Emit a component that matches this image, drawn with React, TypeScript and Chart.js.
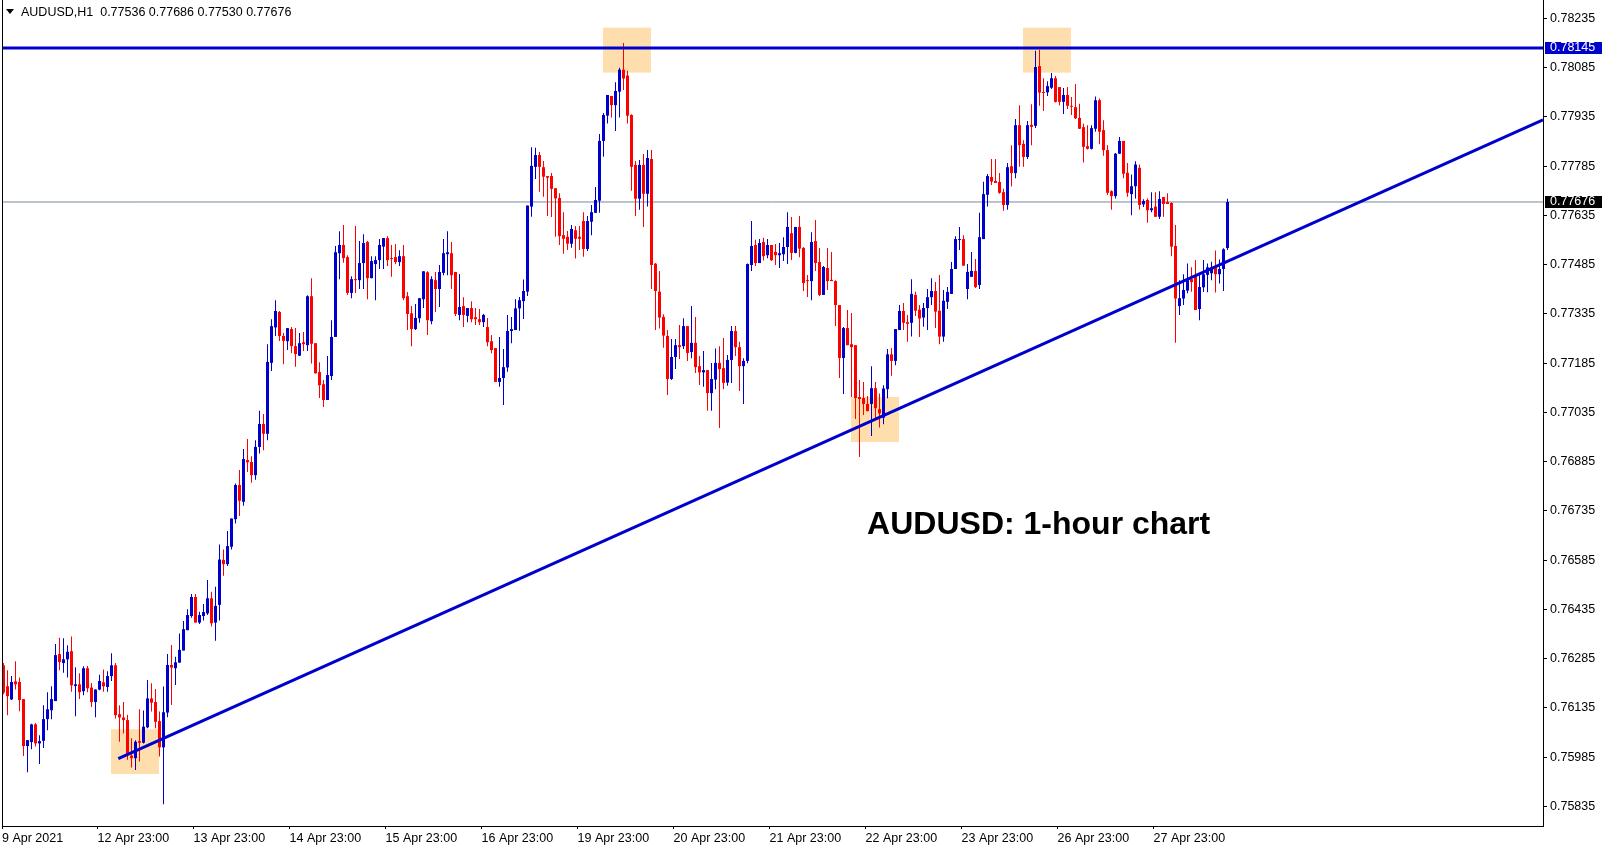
import { useEffect, useRef } from "react";
import { Chart, registerables } from "chart.js";

Chart.register(...registerables);

// ---- Data (AUDUSD H1 candles, index 0 = 9 Apr 2021) ----
const OPEN = [
  0.76265,0.76201,0.76161,0.76216,0.76214,0.76162,0.76019,0.76031,0.76085,0.76027,
  0.76035,0.76101,0.76128,0.76156,0.76299,0.76272,0.76283,0.76308,0.76202,0.76207,
  0.76186,0.76256,0.76197,0.76153,0.76191,0.76213,0.76199,0.76232,0.76265,0.76116,
  0.76106,0.76098,0.75990,0.75982,0.76034,0.76029,0.76076,0.76164,0.76153,0.76095,
  0.76015,0.76121,0.76266,0.76256,0.76273,0.76310,0.76372,0.76415,0.76473,0.76395,
  0.76415,0.76423,0.76469,0.76395,0.76449,0.76586,0.76573,0.76626,0.76710,0.76814,
  0.76763,0.76890,0.76884,0.76844,0.76930,0.77000,0.76970,0.77186,0.77294,0.77341,
  0.77268,0.77252,0.77289,0.77237,0.77208,0.77249,0.77240,0.77389,0.77246,0.77158,
  0.77121,0.77073,0.77146,0.77265,0.77520,0.77545,0.77508,0.77399,0.77441,0.77438,
  0.77490,0.77554,0.77444,0.77487,0.77499,0.77540,0.77566,0.77505,0.77508,0.77493,
  0.77511,0.77389,0.77337,0.77289,0.77322,0.77380,0.77462,0.77313,0.77438,0.77411,
  0.77460,0.77517,0.77520,0.77463,0.77332,0.77359,0.77329,0.77353,0.77325,0.77319,
  0.77310,0.77295,0.77252,0.77231,0.77128,0.77140,0.77172,0.77283,0.77286,0.77352,
  0.77374,0.77403,0.77662,0.77783,0.77819,0.77782,0.77755,0.77755,0.77718,0.77688,
  0.77575,0.77570,0.77549,0.77590,0.77570,0.77618,0.77533,0.77616,0.77643,0.77680,
  0.77862,0.77939,0.77999,0.77971,0.78012,0.78079,0.78061,0.77941,0.77789,0.77686,
  0.77789,0.77701,0.77807,0.77488,0.77403,0.77326,0.77268,0.77137,0.77204,0.77240,
  0.77237,0.77298,0.77219,0.77247,0.77176,0.77157,0.77164,0.77094,0.77135,0.77186,
  0.77170,0.77126,0.77195,0.77283,0.77234,0.77176,0.77192,0.77484,0.77545,0.77490,
  0.77554,0.77514,0.77545,0.77524,0.77514,0.77517,0.77539,0.77581,0.77521,0.77600,
  0.77536,0.77438,0.77435,0.77557,0.77493,0.77393,0.77475,0.77439,0.77435,0.77362,
  0.77201,0.77292,0.77243,0.77240,0.77082,0.77079,0.77061,0.77061,0.77109,0.77045,
  0.77019,0.77106,0.77212,0.77192,0.77286,0.77344,0.77310,0.77308,0.77393,0.77348,
  0.77324,0.77353,0.77386,0.77405,0.77345,0.77266,0.77372,0.77396,0.77472,0.77560,
  0.77563,0.77411,0.77448,0.77466,0.77423,0.77563,0.77698,0.77752,0.77740,0.77737,
  0.77706,0.77667,0.77785,0.77764,0.77910,0.77853,0.77813,0.77911,0.77908,0.78090,
  0.78011,0.78010,0.78024,0.78053,0.78026,0.77981,0.78002,0.77969,0.77965,0.77932,
  0.77904,0.77846,0.77838,0.77899,0.77986,0.77895,0.77834,0.77709,0.77694,0.77823,
  0.77862,0.77765,0.77700,0.77724,0.77780,0.77669,0.77682,0.77651,0.77662,0.77631,
  0.77691,0.77676,0.77673,0.77542,0.77359,0.77382,0.77406,0.77441,0.77450,0.77350,
  0.77416,0.77454,0.77459,0.77477,0.77456,0.77472,0.77536,
];
const HIGH = [
  0.76272,0.76250,0.76232,0.76277,0.76228,0.76162,0.76037,0.76087,0.76089,0.76052,
  0.76143,0.76183,0.76201,0.76330,0.76349,0.76347,0.76326,0.76353,0.76259,0.76241,
  0.76262,0.76263,0.76211,0.76192,0.76236,0.76252,0.76247,0.76302,0.76272,0.76143,
  0.76153,0.76114,0.76043,0.76037,0.76131,0.76127,0.76220,0.76210,0.76193,0.76124,
  0.76200,0.76299,0.76327,0.76291,0.76362,0.76400,0.76436,0.76482,0.76482,0.76428,
  0.76452,0.76525,0.76489,0.76504,0.76633,0.76618,0.76674,0.76712,0.76819,0.76860,
  0.76924,0.76954,0.76902,0.76950,0.77040,0.77030,0.77243,0.77319,0.77377,0.77344,
  0.77277,0.77292,0.77295,0.77292,0.77277,0.77280,0.77392,0.77444,0.77246,0.77188,
  0.77134,0.77207,0.77316,0.77542,0.77587,0.77606,0.77514,0.77450,0.77603,0.77557,
  0.77578,0.77557,0.77511,0.77511,0.77563,0.77566,0.77572,0.77545,0.77548,0.77529,
  0.77545,0.77402,0.77359,0.77365,0.77383,0.77465,0.77465,0.77450,0.77463,0.77484,
  0.77563,0.77587,0.77554,0.77463,0.77457,0.77386,0.77353,0.77374,0.77353,0.77350,
  0.77335,0.77323,0.77271,0.77231,0.77265,0.77228,0.77332,0.77326,0.77380,0.77387,
  0.77440,0.77665,0.77843,0.77841,0.77828,0.77801,0.77755,0.77764,0.77718,0.77703,
  0.77645,0.77588,0.77606,0.77603,0.77603,0.77645,0.77633,0.77667,0.77722,0.77883,
  0.77947,0.78002,0.77999,0.78041,0.78085,0.78160,0.78076,0.77943,0.77801,0.77804,
  0.77822,0.77834,0.77834,0.77490,0.77466,0.77334,0.77286,0.77259,0.77259,0.77301,
  0.77322,0.77298,0.77359,0.77326,0.77207,0.77222,0.77164,0.77186,0.77230,0.77237,
  0.77262,0.77210,0.77298,0.77298,0.77250,0.77200,0.77489,0.77618,0.77561,0.77563,
  0.77567,0.77563,0.77545,0.77548,0.77551,0.77569,0.77645,0.77630,0.77600,0.77633,
  0.77539,0.77454,0.77584,0.77621,0.77536,0.77481,0.77536,0.77524,0.77438,0.77362,
  0.77295,0.77347,0.77338,0.77240,0.77134,0.77128,0.77085,0.77176,0.77128,0.77093,
  0.77118,0.77228,0.77231,0.77289,0.77362,0.77368,0.77332,0.77441,0.77403,0.77362,
  0.77368,0.77411,0.77444,0.77432,0.77454,0.77408,0.77417,0.77493,0.77572,0.77600,
  0.77575,0.77487,0.77524,0.77502,0.77643,0.77738,0.77761,0.77807,0.77807,0.77764,
  0.77716,0.77795,0.77849,0.77929,0.77971,0.77864,0.77923,0.77974,0.78137,0.78140,
  0.78053,0.78044,0.78069,0.78060,0.78026,0.78023,0.78026,0.77996,0.78035,0.77975,
  0.77914,0.77910,0.77910,0.77997,0.77991,0.77925,0.77849,0.77712,0.77825,0.77874,
  0.77862,0.77795,0.77760,0.77800,0.77790,0.77684,0.77687,0.77706,0.77706,0.77709,
  0.77691,0.77703,0.77675,0.77606,0.77438,0.77456,0.77489,0.77477,0.77499,0.77453,
  0.77499,0.77489,0.77494,0.77528,0.77501,0.77535,0.77686,
];
const LOW = [
  0.76177,0.76113,0.76159,0.76191,0.76125,0.75989,0.75939,0.76009,0.76018,0.75964,
  0.76013,0.76067,0.76101,0.76156,0.76250,0.76242,0.76228,0.76184,0.76110,0.76162,
  0.76174,0.76183,0.76138,0.76107,0.76189,0.76184,0.76184,0.76217,0.76103,0.76032,
  0.76057,0.75977,0.75954,0.75946,0.75972,0.76027,0.76073,0.76124,0.76073,0.75987,
  0.75842,0.76107,0.76144,0.76205,0.76273,0.76310,0.76372,0.76410,0.76395,0.76391,
  0.76401,0.76418,0.76383,0.76340,0.76401,0.76538,0.76567,0.76618,0.76697,0.76720,
  0.76751,0.76854,0.76821,0.76830,0.76910,0.76920,0.76950,0.77161,0.77268,0.77253,
  0.77182,0.77225,0.77215,0.77174,0.77207,0.77222,0.77222,0.77184,0.77154,0.77079,
  0.77052,0.77073,0.77134,0.77265,0.77441,0.77491,0.77393,0.77383,0.77399,0.77411,
  0.77411,0.77380,0.77444,0.77377,0.77472,0.77472,0.77481,0.77448,0.77487,0.77481,
  0.77377,0.77286,0.77237,0.77286,0.77308,0.77353,0.77271,0.77304,0.77341,0.77356,
  0.77453,0.77453,0.77411,0.77329,0.77316,0.77295,0.77310,0.77310,0.77301,0.77301,
  0.77295,0.77237,0.77215,0.77128,0.77113,0.77058,0.77159,0.77246,0.77286,0.77284,
  0.77320,0.77390,0.77631,0.77746,0.77707,0.77692,0.77633,0.77630,0.77570,0.77545,
  0.77518,0.77530,0.77537,0.77504,0.77530,0.77509,0.77527,0.77575,0.77643,0.77643,
  0.77814,0.77915,0.77933,0.77892,0.77933,0.78017,0.77915,0.77710,0.77633,0.77652,
  0.77600,0.77662,0.77411,0.77286,0.77291,0.77232,0.77088,0.77134,0.77167,0.77198,
  0.77228,0.77192,0.77200,0.77155,0.77119,0.77113,0.77040,0.77040,0.77106,0.76988,
  0.77106,0.77116,0.77125,0.77207,0.77100,0.77061,0.77185,0.77466,0.77481,0.77490,
  0.77498,0.77505,0.77496,0.77484,0.77475,0.77496,0.77487,0.77499,0.77520,0.77508,
  0.77405,0.77387,0.77377,0.77466,0.77390,0.77393,0.77408,0.77435,0.77298,0.77140,
  0.77091,0.77240,0.77082,0.77015,0.76899,0.77027,0.77039,0.76963,0.77015,0.76989,
  0.76999,0.77078,0.77147,0.77179,0.77286,0.77286,0.77250,0.77266,0.77329,0.77265,
  0.77296,0.77286,0.77362,0.77292,0.77243,0.77250,0.77350,0.77396,0.77472,0.77530,
  0.77482,0.77380,0.77448,0.77414,0.77411,0.77563,0.77662,0.77728,0.77734,0.77701,
  0.77649,0.77652,0.77723,0.77748,0.77783,0.77783,0.77807,0.77849,0.77901,0.77969,
  0.77953,0.77999,0.78020,0.77979,0.77971,0.77944,0.77959,0.77941,0.77929,0.77898,
  0.77796,0.77836,0.77836,0.77890,0.77852,0.77817,0.77697,0.77652,0.77687,0.77823,
  0.77748,0.77692,0.77636,0.77687,0.77653,0.77661,0.77613,0.77645,0.77630,0.77624,
  0.77631,0.77670,0.77511,0.77247,0.77332,0.77362,0.77398,0.77403,0.77347,0.77316,
  0.77402,0.77401,0.77438,0.77400,0.77428,0.77405,0.77530,
];
const CLOSE = [
  0.76182,0.76171,0.76214,0.76207,0.76159,0.76019,0.76037,0.76085,0.76027,0.76034,
  0.76101,0.76131,0.76162,0.76296,0.76275,0.76283,0.76306,0.76204,0.76207,0.76183,
  0.76256,0.76195,0.76153,0.76191,0.76217,0.76201,0.76232,0.76265,0.76113,0.76106,
  0.76098,0.75992,0.75982,0.76032,0.76029,0.76078,0.76164,0.76151,0.76093,0.76015,
  0.76122,0.76266,0.76258,0.76274,0.76312,0.76375,0.76418,0.76473,0.76395,0.76418,
  0.76427,0.76469,0.76393,0.76446,0.76587,0.76573,0.76628,0.76712,0.76814,0.76766,
  0.76893,0.76883,0.76844,0.76930,0.77000,0.76970,0.77189,0.77298,0.77344,0.77268,
  0.77253,0.77292,0.77237,0.77213,0.77246,0.77243,0.77389,0.77244,0.77154,0.77118,
  0.77073,0.77149,0.77265,0.77523,0.77545,0.77505,0.77399,0.77441,0.77438,0.77490,
  0.77551,0.77444,0.77496,0.77499,0.77545,0.77566,0.77499,0.77502,0.77493,0.77511,
  0.77383,0.77335,0.77289,0.77323,0.77383,0.77465,0.77316,0.77441,0.77411,0.77463,
  0.77520,0.77523,0.77453,0.77335,0.77356,0.77332,0.77353,0.77319,0.77319,0.77310,
  0.77332,0.77249,0.77225,0.77128,0.77140,0.77173,0.77283,0.77289,0.77352,0.77377,
  0.77405,0.77665,0.77786,0.77819,0.77783,0.77753,0.77750,0.77716,0.77687,0.77572,
  0.77564,0.77549,0.77594,0.77564,0.77564,0.77533,0.77618,0.77645,0.77682,0.77862,
  0.77941,0.78002,0.77971,0.78014,0.78079,0.78052,0.77939,0.77783,0.77686,0.77789,
  0.77701,0.77810,0.77484,0.77405,0.77324,0.77269,0.77137,0.77204,0.77240,0.77234,
  0.77298,0.77216,0.77247,0.77173,0.77157,0.77164,0.77094,0.77137,0.77186,0.77167,
  0.77125,0.77195,0.77283,0.77234,0.77176,0.77192,0.77487,0.77542,0.77490,0.77551,
  0.77511,0.77545,0.77499,0.77514,0.77520,0.77539,0.77600,0.77521,0.77600,0.77534,
  0.77429,0.77435,0.77554,0.77490,0.77393,0.77478,0.77435,0.77435,0.77362,0.77201,
  0.77292,0.77240,0.77234,0.77079,0.77076,0.77061,0.77039,0.77109,0.77048,0.77032,
  0.77108,0.77212,0.77192,0.77289,0.77344,0.77308,0.77305,0.77396,0.77345,0.77321,
  0.77353,0.77386,0.77405,0.77342,0.77266,0.77375,0.77402,0.77472,0.77563,0.77563,
  0.77482,0.77463,0.77466,0.77417,0.77569,0.77700,0.77755,0.77738,0.77734,0.77704,
  0.77667,0.77782,0.77764,0.77910,0.77849,0.77813,0.77910,0.77905,0.78087,0.78009,
  0.78008,0.78029,0.78053,0.77981,0.77981,0.78002,0.77969,0.77966,0.77931,0.77899,
  0.77844,0.77838,0.77901,0.77986,0.77890,0.77834,0.77704,0.77694,0.77823,0.77862,
  0.77762,0.77704,0.77724,0.77790,0.77667,0.77679,0.77651,0.77657,0.77631,0.77685,
  0.77670,0.77670,0.77540,0.77382,0.77383,0.77408,0.77438,0.77432,0.77347,0.77417,
  0.77456,0.77477,0.77477,0.77456,0.77472,0.77532,0.77676,
];

const X_TICK_INDEX = [0, 24, 48, 72, 96, 120, 144, 168, 192, 216, 240, 264, 288];
const X_TICK_LABELS = [
  "9 Apr 2021", "12 Apr 23:00", "13 Apr 23:00", "14 Apr 23:00", "15 Apr 23:00",
  "16 Apr 23:00", "19 Apr 23:00", "20 Apr 23:00", "21 Apr 23:00", "22 Apr 23:00",
  "23 Apr 23:00", "26 Apr 23:00", "27 Apr 23:00",
];
const Y_TICKS = [
  0.78235, 0.78085, 0.77935, 0.77785, 0.77635, 0.77485, 0.77335, 0.77185, 0.77035,
  0.76885, 0.76735, 0.76585, 0.76435, 0.76285, 0.76135, 0.75985, 0.75835,
];

const RESISTANCE = 0.78145;
const LAST_PRICE = 0.77676;
const TREND_X = [28.7, 384.875];
const TREND_Y = [0.75981, 0.77926];
const BOX_X0 = [26.875, 149.875, 254.875, 211.875];
const BOX_X1 = [38.875, 161.875, 266.875, 223.875];
const BOX_LO = [0.75934, 0.7807, 0.7807, 0.76945];
const BOX_HI = [0.7607, 0.78207, 0.78207, 0.77082];
const HEADER = "AUDUSD,H1  0.77536 0.77686 0.77530 0.77676";
const TITLE = "AUDUSD: 1-hour chart";
const TITLE_AT = { x: 215.9, y: 0.76692 };

const X_MIN = -0.375;
const X_MAX = 384.875;
const Y_MIN = 0.757755;
const Y_MAX = 0.782912;

const BLUE = "#0000CD";
const RED = "#FF0000";
const FONT = '"Liberation Sans", Arial, sans-serif';

const candleColor = (i: number) => (CLOSE[i] >= OPEN[i] ? BLUE : RED);

const overlayPlugin = {
  id: "overlay",
  beforeDatasetsDraw(chart: any) {
    const { ctx } = chart;
    const x = chart.scales.x;
    const y = chart.scales.y;
    ctx.save();
    ctx.fillStyle = "rgb(255,222,173)";
    for (let k = 0; k < BOX_X0.length; k++) {
      const px0 = x.getPixelForValue(BOX_X0[k]);
      const px1 = x.getPixelForValue(BOX_X1[k]);
      const py0 = y.getPixelForValue(BOX_HI[k]);
      const py1 = y.getPixelForValue(BOX_LO[k]);
      ctx.fillRect(px0, py0, px1 - px0, py1 - py0);
    }
    ctx.restore();
  },
  afterDraw(chart: any) {
    const { ctx, chartArea } = chart;
    const x = chart.scales.x;
    const y = chart.scales.y;
    ctx.save();
    // left frame line
    ctx.fillStyle = "#000";
    ctx.fillRect(chartArea.left, 0, 1, chartArea.bottom);

    // header
    ctx.beginPath();
    ctx.moveTo(6, 9);
    ctx.lineTo(14, 9);
    ctx.lineTo(10, 14);
    ctx.closePath();
    ctx.fill();
    ctx.font = `12.5px ${FONT}`;
    ctx.textBaseline = "middle";
    ctx.textAlign = "left";
    ctx.fillText(HEADER, 21, 12.5);

    // title
    ctx.font = `bold 32px ${FONT}`;
    ctx.fillText(TITLE, x.getPixelForValue(TITLE_AT.x), y.getPixelForValue(TITLE_AT.y));

    // price tags
    const tag = (value: number, bg: string) => {
      const py = y.getPixelForValue(value);
      ctx.fillStyle = bg;
      ctx.fillRect(chartArea.right + 2, Math.round(py) - 6, 57, 12);
      ctx.fillStyle = "#fff";
      ctx.font = `12.5px ${FONT}`;
      ctx.textBaseline = "middle";
      ctx.fillText(value.toFixed(5), chartArea.right + 7, py);
    };
    tag(RESISTANCE, BLUE);
    tag(LAST_PRICE, "#000");
    ctx.restore();
  },
};

export default function App() {
  const ref = useRef<HTMLCanvasElement>(null);
  useEffect(() => {
    document.body.style.margin = "0";
    const wicks = OPEN.map((_, i) => ({ x: i, y: [LOW[i], HIGH[i]] }));
    const bodies = OPEN.map((o, i) => ({ x: i, y: [o, CLOSE[i]] }));
    const chart = new Chart(ref.current as HTMLCanvasElement, {
      type: "bar",
      data: {
        datasets: [
          {
            type: "line",
            data: [{ x: X_MIN, y: LAST_PRICE }, { x: X_MAX, y: LAST_PRICE }],
            borderColor: "rgb(119,136,153)",
            borderWidth: 1,
            pointRadius: 0,
            order: 5,
          } as any,
          {
            data: wicks,
            backgroundColor: (c: any) => candleColor(c.dataIndex),
            barThickness: 1,
            grouped: false,
            borderWidth: 0,
            minBarLength: 1,
            inflateAmount: 0,
            order: 4,
          } as any,
          {
            data: bodies,
            backgroundColor: (c: any) => candleColor(c.dataIndex),
            barThickness: 3,
            grouped: false,
            borderWidth: 0,
            minBarLength: 1,
            inflateAmount: 0,
            order: 3,
          } as any,
          {
            type: "line",
            data: [{ x: X_MIN, y: RESISTANCE }, { x: X_MAX, y: RESISTANCE }],
            borderColor: BLUE,
            borderWidth: 3,
            pointRadius: 0,
            order: 1,
          } as any,
          {
            type: "line",
            data: [{ x: TREND_X[0], y: TREND_Y[0] }, { x: TREND_X[1], y: TREND_Y[1] }],
            borderColor: BLUE,
            borderWidth: 3,
            pointRadius: 0,
            order: 0,
          } as any,
        ],
      },
      options: {
        animation: false,
        responsive: true,
        maintainAspectRatio: false,
        events: [],
        layout: { padding: { left: 2, top: 0, right: 0, bottom: 0 } },
        plugins: { legend: { display: false }, tooltip: { enabled: false } },
        scales: {
          x: {
            type: "linear",
            min: X_MIN,
            max: X_MAX,
            bounds: "data",
            offset: false,
            grid: { display: true, drawOnChartArea: false, drawTicks: true, tickLength: 3, color: "#000", offset: false },
            border: { display: true, color: "#000", width: 1 },
            ticks: {
              autoSkip: false,
              maxRotation: 0,
              minRotation: 0,
              align: "start",
              padding: 2,
              color: "#000",
              font: { family: FONT, size: 12.5 },
              callback: (_v: any, idx: number) => X_TICK_LABELS[idx],
            },
            afterBuildTicks: (s: any) => {
              s.ticks = X_TICK_INDEX.map((i) => ({ value: Math.max(X_MIN, i - 0.5) }));
            },
            afterFit: (s: any) => {
              s.height = 24;
              s.paddingLeft = 0;
              s.paddingRight = 0;
            },
          } as any,
          y: {
            type: "linear",
            position: "right",
            min: Y_MIN,
            max: Y_MAX,
            bounds: "data",
            grid: { display: true, drawOnChartArea: false, drawTicks: true, tickLength: 4, color: "#000" },
            border: { display: true, color: "#000", width: 1 },
            ticks: {
              padding: 3,
              color: "#000",
              font: { family: FONT, size: 12.5 },
              callback: (v: any) => Number(v).toFixed(5),
            },
            afterBuildTicks: (s: any) => {
              s.ticks = Y_TICKS.map((v) => ({ value: v }));
            },
            afterFit: (s: any) => {
              s.width = 64;
              s.paddingTop = 0;
              s.paddingBottom = 0;
            },
          } as any,
        },
      },
      plugins: [overlayPlugin],
    } as any);
    return () => chart.destroy();
  }, []);
  return (
    <div style={{ position: "relative", width: 1607, height: 850 }}>
      <canvas ref={ref} />
    </div>
  );
}
